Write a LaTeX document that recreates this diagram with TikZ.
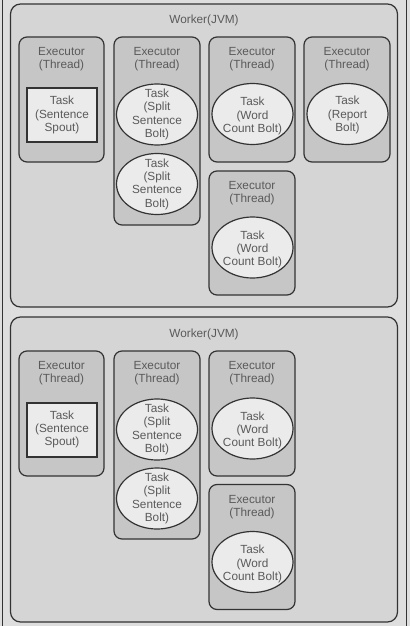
\documentclass[tikz,border=0pt]{standalone}
\usepackage{fontspec}
\setmainfont{Liberation Sans}
\usetikzlibrary{shapes.geometric}
\definecolor{bgc}{HTML}{DEDEDE}
\definecolor{workerc}{HTML}{D5D5D5}
\definecolor{execc}{HTML}{C6C6C6}
\definecolor{taskc}{HTML}{EBEBEB}
\definecolor{linec}{HTML}{333333}
\definecolor{txtc}{HTML}{5A5A5A}
\begin{document}
\begin{tikzpicture}[x=1pt,y=-1pt,
  worker/.style={draw=linec, fill=workerc, rounded corners=10pt, line width=1.2pt,
    minimum width=387pt, inner sep=0pt},
  execbox/.style={draw=linec, fill=execc, rounded corners=8pt, line width=1.2pt,
    minimum width=86pt, inner sep=0pt},
  taskbox/.style={draw=linec, fill=taskc, line width=2pt, minimum width=70pt,
    minimum height=54pt, inner sep=0pt},
  taskell/.style={ellipse, draw=linec, fill=taskc, line width=1.2pt, minimum width=81pt,
    minimum height=61pt, inner sep=0pt},
  lbl/.style={text=txtc, font=\fontsize{11.8}{13.3}\selectfont, align=center, inner sep=0pt},
  frameline/.style={draw=linec, line width=1pt}]
\useasboundingbox (0,0) rectangle (410,626);
\fill[bgc] (0,0) rectangle (410,626);
\coordinate (fl1) at (2,0); \coordinate (fl2) at (2,626);
\coordinate (fr1) at (406,0); \coordinate (fr2) at (406,626);
\draw[frameline] (fl1) -- (fl2);
\draw[frameline] (fr1) -- (fr2);
% Worker 1
\node[worker, minimum height=303pt] (w1) at (204,155.5) {};
\node[lbl] (w1l) at (204,20) {Worker(JVM)};
\node[execbox, minimum height=125pt, minimum width=85pt] (a1) at (61.5,99.5) {};
\node[execbox, minimum height=188pt] (a2) at (157,131) {};
\node[execbox, minimum height=125pt] (a3) at (252,99.5) {};
\node[execbox, minimum height=125pt] (a4) at (347,99.5) {};
\node[execbox, minimum height=124pt] (a5) at (252,233) {};
\foreach \n/\x/\y in {a1/61.5/59.5, a2/157/59.5, a3/252/59.5, a4/347/59.5, a5/252/193}
  \node[lbl] (\n l) at (\x,\y) {Executor\\(Thread)};
\node[taskbox] (t1) at (62,115) {};
\node[lbl] at (t1.center) {Task\\(Sentence\\Spout)};
\node[taskell] (t2) at (157,114.5) {};
\node[lbl] at (t2.center) {Task\\(Split\\Sentence\\Bolt)};
\node[taskell] (t3) at (157,184) {};
\node[lbl] at (t3.center) {Task\\(Split\\Sentence\\Bolt)};
\node[taskell] (t4) at (252.5,114) {};
\node[lbl] at ([yshift=-2pt]t4.center) {Task\\(Word\\Count Bolt)};
\node[taskell] (t5) at (347.5,114) {};
\node[lbl] at ([yshift=-1pt]t5.center) {Task\\(Report\\Bolt)};
\node[taskell] (t6) at (252.5,247.5) {};
\node[lbl] at ([yshift=-2pt]t6.center) {Task\\(Word\\Count Bolt)};
% Worker 2
\node[worker, minimum height=305pt] (w2) at (204,469.5) {};
\node[lbl] (w2l) at (204,334) {Worker(JVM)};
\node[execbox, minimum height=125pt, minimum width=85pt] (b1) at (61.5,413.5) {};
\node[execbox, minimum height=188pt] (b2) at (157,445) {};
\node[execbox, minimum height=125pt] (b3) at (252,413.5) {};
\node[execbox, minimum height=125pt] (b5) at (252,547) {};
\foreach \n/\x/\y in {b1/61.5/373.5, b2/157/373.5, b3/252/373.5, b5/252/507}
  \node[lbl] (\n l) at (\x,\y) {Executor\\(Thread)};
\node[taskbox] (s1) at (62,429.5) {};
\node[lbl] at (s1.center) {Task\\(Sentence\\Spout)};
\node[taskell] (s2) at (157,429.5) {};
\node[lbl] at (s2.center) {Task\\(Split\\Sentence\\Bolt)};
\node[taskell] (s3) at (157,498.5) {};
\node[lbl] at (s3.center) {Task\\(Split\\Sentence\\Bolt)};
\node[taskell] (s4) at (252.5,428.5) {};
\node[lbl] at ([yshift=-2pt]s4.center) {Task\\(Word\\Count Bolt)};
\node[taskell] (s6) at (252.5,562) {};
\node[lbl] at ([yshift=-2pt]s6.center) {Task\\(Word\\Count Bolt)};
\end{tikzpicture}
\end{document}
